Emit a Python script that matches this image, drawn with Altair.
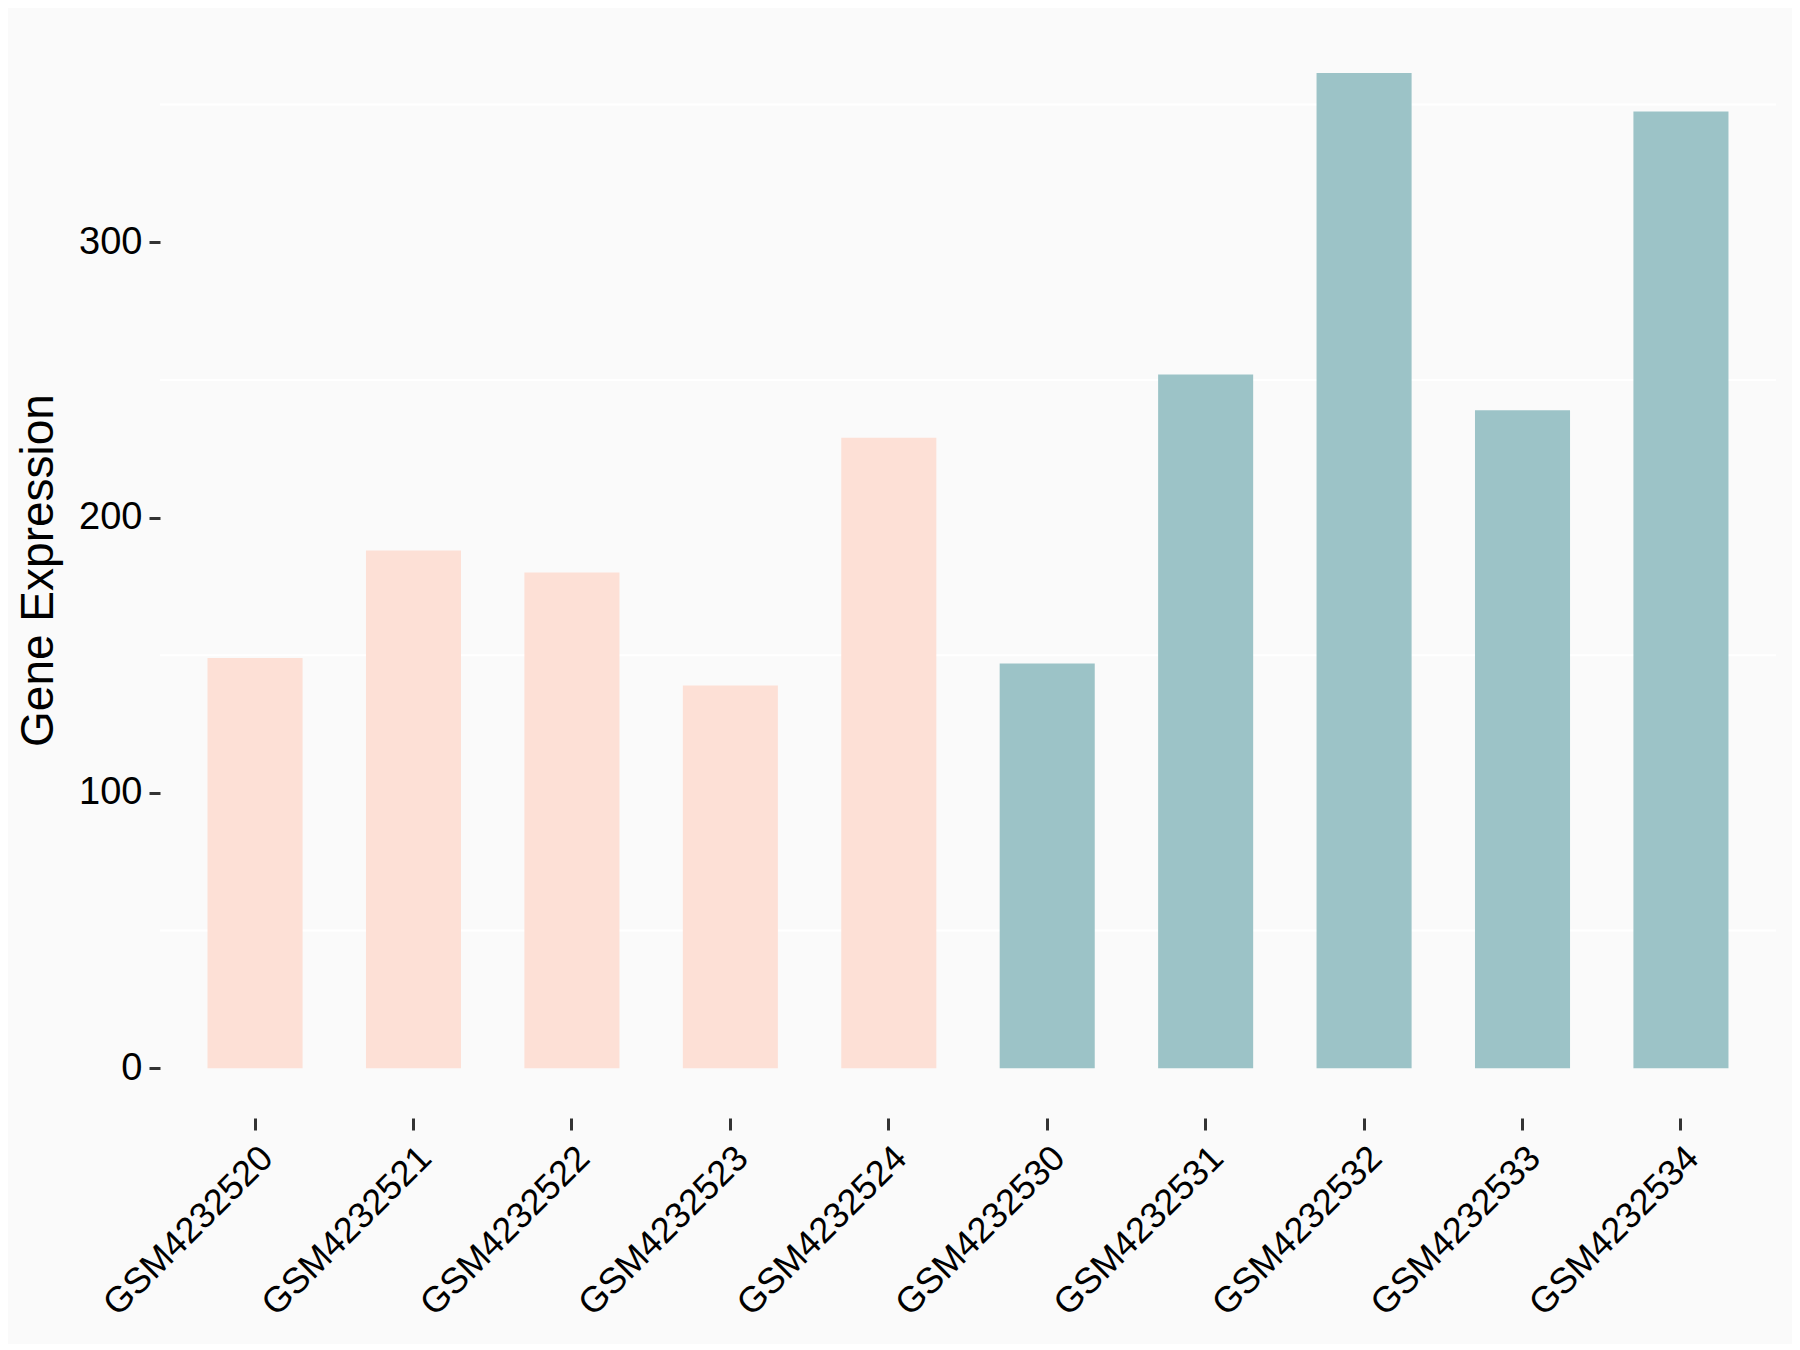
import altair as alt
import pandas as pd

samples = ["GSM4232520", "GSM4232521", "GSM4232522", "GSM4232523", "GSM4232524",
           "GSM4232530", "GSM4232531", "GSM4232532", "GSM4232533", "GSM4232534"]
values = [149, 188, 180, 139, 229, 147, 252, 361.5, 239, 347.5]
groups = ["A", "A", "A", "A", "A", "B", "B", "B", "B", "B"]
group_colors = ["#FDE0D6", "#9CC3C7"]
y_ticks = [0, 100, 200, 300]
minor_grid = [50, 150, 250, 350]

df = pd.DataFrame({"sample": samples, "value": values, "group": groups})
grid_df = pd.DataFrame({"g": minor_grid})

W, H = 1616, 1096
FONT = "Liberation Sans"
ydom = [-18.1, 380]

yaxis = alt.Axis(
    values=y_ticks, title="Gene Expression", grid=False, domain=False,
    labelFontSize=38, labelColor="#000000", labelFont=FONT, labelPadding=7,
    tickColor="#333333", tickSize=11, tickWidth=3,
    titleFontSize=46, titleFont=FONT, titleFontWeight="normal", titleColor="#000000",
    titlePadding=16,
)

grid = alt.Chart(grid_df).mark_rule(color="#FFFFFF", strokeWidth=2).encode(
    x=alt.value(0), x2=alt.value(W),
    y=alt.Y("g:Q", scale=alt.Scale(domain=ydom, nice=False, zero=False), axis=yaxis),
)

bars = alt.Chart(df).mark_bar().encode(
    x=alt.X("sample:N", sort=samples,
            scale=alt.Scale(paddingInner=0.4, paddingOuter=0.3),
            axis=alt.Axis(title=None, labelAngle=-45, labelAlign="right", labelBaseline="top",
                          labelFontSize=36, labelFont=FONT, labelColor="#000000", labelLimit=0,
                          labelPadding=10, tickColor="#333333", tickSize=12, tickWidth=3,
                          domain=False, grid=False)),
    y=alt.Y("value:Q", scale=alt.Scale(domain=ydom, nice=False, zero=False), axis=yaxis),
    color=alt.Color("group:N", scale=alt.Scale(domain=["A", "B"], range=group_colors), legend=None),
)

chart = alt.layer(grid, bars).properties(
    width=W, height=H,
    background="#FAFAFA",
    autosize=alt.AutoSizeParams(type="none"),
    padding={"left": 152, "top": 14, "right": 16, "bottom": 226},
).configure_view(stroke=None)

chart.save("out.html", embed_options={"renderer": "svg", "actions": False})
